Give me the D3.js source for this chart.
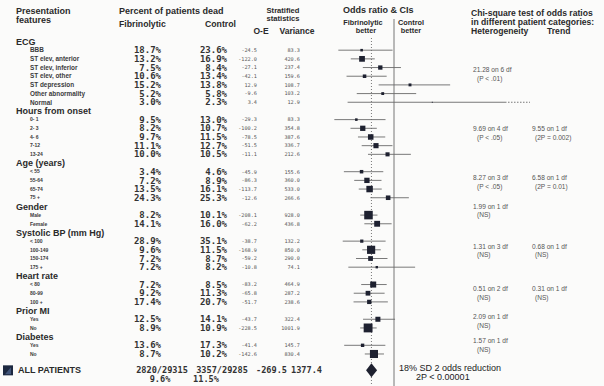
<!DOCTYPE html>
<html>
<head>
<meta charset="utf-8"/>
<script src="https://d3js.org/d3.v7.min.js"></script>
<style>
  body { margin: 0; background: #fbfbfa; }
  svg text { font-family: "Liberation Sans", Arial, sans-serif; }
  .mono { font-family: "DejaVu Sans Mono", monospace !important; }
</style>
</head>
<body>
<svg id="chart" width="604" height="386"></svg>
<script>
// ---- data ----
var groupNames = ["ECG", "Hours from onset", "Age (years)", "Gender",
                  "Systolic BP (mm Hg)", "Heart rate", "Prior MI", "Diabetes"];

var groupItems = [
  ["BBB", "ST elev, anterior", "ST elev, inferior", "ST elev, other", "ST depression", "Other abnormality", "Normal"],
  ["0- 1", "2- 3", "4- 6", "7-12", "13-24"],
  ["< 55", "55-64", "65-74", "75 +"],
  ["Male", "Female"],
  ["< 100", "100-149", "150-174", "175 +"],
  ["< 80", "80-99", "100 +"],
  ["Yes", "No"],
  ["Yes", "No"]
];

var fibPct = [18.7, 13.2, 7.5, 10.6, 15.2, 5.2, 3.0,  9.5, 8.2, 9.7, 11.1, 10.0,
              3.4, 7.2, 13.5, 24.3,  8.2, 14.1,  28.9, 9.6, 7.2, 7.2,
              7.2, 9.2, 17.4,  12.5, 8.9,  13.6, 8.7];
var ctlPct = [23.6, 16.9, 8.4, 13.4, 13.8, 5.8, 2.3,  13.0, 10.7, 11.5, 12.7, 10.5,
              4.6, 8.9, 16.1, 25.3,  10.1, 16.0,  35.1, 11.5, 8.7, 8.2,
              8.5, 11.3, 20.7,  14.1, 10.9,  17.3, 10.2];
var oMinusE = [-24.5, -122.0, -27.1, -42.1, 12.9, -9.6, 3.4,  -29.3, -100.2, -78.5, -51.5, -11.1,
               -45.9, -86.3, -113.7, -12.6,  -208.1, -62.2,  -38.7, -168.9, -59.2, -10.8,
               -83.2, -65.8, -51.7,  -43.7, -228.5,  -41.4, -142.6];
var variance = [83.3, 420.6, 237.4, 159.6, 108.7, 103.2, 12.9,  83.3, 354.8, 387.6, 336.7, 212.6,
                155.6, 360.0, 533.0, 266.6,  928.0, 436.8,  132.2, 850.0, 290.0, 74.1,
                464.9, 287.2, 238.6,  322.4, 1001.9,  145.7, 830.4];

var allCounts = ["2820/29315", "3357/29285"];
var allPct = [9.6, 11.5];
var allOE = -269.5, allVar = 1377.4;

var heteroStat = ["21.28 on 6 df", "9.69 on 4 df", "8.27 on 3 df", "1.99 on 1 df",
                  "1.31 on 3 df", "0.51 on 2 df", "2.09 on 1 df", "1.57 on 1 df"];
var heteroP = ["(P < .01)", "(P < .05)", "(P < .05)", "(NS)", "(NS)", "(NS)", "(NS)", "(NS)"];
var trendStat = [null, "9.55 on 1 df", "6.58 on 1 df", null, "0.68 on 1 df", "0.31 on 1 df", null, null];
var trendP = [null, "(2P = 0.002)", "(2P = 0.01)", null, "(NS)", "(NS)", null, null];

// ---- layout ----
var svg = d3.select("#chart");
var W = 604, H = 386;
var y = d3.scaleLinear().domain([0, 38]).range([41.5, 41.5 + 38 * 8.68]);
var x = d3.scaleLinear().domain([0.5, 1.5]).range([330.5, 457.5]);
var xClip = 505;
// row (in row units) where each group's chi-square text starts, relative to its header
var statOffset = [3.3, 2.1, 1.7, 0.0, 1.6, 1.5, 0.7, 0.5];

var rows = [], headers = [];
var idx = 0, k = 0;
groupNames.forEach(function(g, gi) {
  headers.push({name: g, i: idx, gi: gi});
  idx++;
  groupItems[gi].forEach(function(lab) {
    rows.push({label: lab, i: idx, gi: gi, fib: fibPct[k], ctl: ctlPct[k], oe: oMinusE[k], v: variance[k], ecg: gi === 0});
    idx++; k++;
  });
});
var allRow = idx + 1;

rows.forEach(function(d) {
  var b = d.oe / d.v, se = 1 / Math.sqrt(d.v);
  d.or = Math.exp(b);
  d.lo = Math.exp(b - 2.58 * se);
  d.hi = Math.exp(b + 2.58 * se);
});

// ---- column headings ----
var head = svg.append("g").attr("fill", "#2a2a2a").style("font-weight", "bold");
function ht(t, xx, yy, size, anchor) {
  head.append("text").attr("x", xx).attr("y", yy).attr("text-anchor", anchor || "start")
    .style("font-size", size + "px").text(t);
}
ht("Presentation", 16, 14, 9); ht("features", 16, 23, 9);
ht("Percent of patients dead", 119, 14, 9);
ht("Fibrinolytic", 119, 27, 8.7); ht("Control", 205, 27, 8.7);
ht("Stratified", 283, 12.5, 7.6, "middle"); ht("statistics", 283, 20.5, 7.6, "middle");
ht("O-E", 261, 34, 8.5, "middle"); ht("Variance", 297, 34, 8.5, "middle");
ht("Odds ratio & CIs", 343, 13, 9);
ht("Fibrinolytic", 363, 24.5, 7.3, "middle"); ht("better", 366, 32.5, 7.3, "middle");
ht("Control", 411, 24.5, 7.3, "middle"); ht("better", 411, 32.5, 7.3, "middle");
ht("Chi-square test of odds ratios", 471, 16, 8.6);
ht("in different patient categories:", 471, 25, 8.6);
ht("Heterogeneity", 471, 34, 8.6); ht("Trend", 547, 34, 8.6);

// ---- reference lines ----
svg.append("line").attr("x1", x(1)).attr("x2", x(1)).attr("y1", 19).attr("y2", H)
  .attr("stroke", "#777").attr("stroke-width", 1);
var pooled = Math.exp(allOE / allVar);
svg.append("line").attr("x1", x(pooled)).attr("x2", x(pooled)).attr("y1", 38).attr("y2", H)
  .attr("stroke", "#777").attr("stroke-width", 1).attr("stroke-dasharray", "1,2");

// ---- group headings ----
svg.append("g").selectAll("text").data(headers).join("text")
  .attr("x", 16).attr("y", function(d) { return y(d.i); }).attr("dy", "0.35em")
  .attr("fill", "#2a2a2a").style("font-size", "9px").style("font-weight", "bold")
  .text(function(d) { return d.name; });

// ---- row labels ----
svg.append("g").selectAll("text").data(rows).join("text")
  .attr("x", 30).attr("y", function(d) { return y(d.i); }).attr("dy", "0.35em")
  .attr("fill", "#3a3a3a").style("font-weight", "bold")
  .style("font-size", function(d) { return d.ecg ? "6.4px" : "5px"; })
  .text(function(d) { return d.label; });

// ---- percent columns ----
function pctCol(key, xr) {
  svg.append("g").selectAll("text").data(rows).join("text")
    .attr("class", "mono").attr("x", xr).attr("y", function(d) { return y(d.i); }).attr("dy", "0.35em")
    .attr("text-anchor", "end").attr("fill", "#333").style("font-size", "9px").style("font-weight", "bold")
    .text(function(d) { return d[key].toFixed(1) + "%"; });
}
pctCol("fib", 161);
pctCol("ctl", 227);

function statCol(key, xr) {
  svg.append("g").selectAll("text").data(rows).join("text")
    .attr("class", "mono").attr("x", xr).attr("y", function(d) { return y(d.i); }).attr("dy", "0.35em")
    .attr("text-anchor", "end").attr("fill", "#555").style("font-size", "5.2px")
    .text(function(d) { return d[key].toFixed(1); });
}
statCol("oe", 257);
statCol("v", 300);

// ---- forest plot ----
var forest = svg.append("g");
forest.selectAll("line.ci").data(rows).join("line").attr("class", "ci")
  .attr("x1", function(d) { return x(d.lo); })
  .attr("x2", function(d) { return Math.min(x(d.hi), xClip); })
  .attr("y1", function(d) { return y(d.i); }).attr("y2", function(d) { return y(d.i); })
  .attr("stroke", "#6a6a6a").attr("stroke-width", 0.9);
forest.selectAll("line.ext").data(rows.filter(function(d) { return x(d.hi) > xClip; })).join("line")
  .attr("class", "ext")
  .attr("x1", xClip).attr("x2", xClip + 25)
  .attr("y1", function(d) { return y(d.i); }).attr("y2", function(d) { return y(d.i); })
  .attr("stroke", "#6a6a6a").attr("stroke-width", 0.9).attr("stroke-dasharray", "1.5,1.5");
forest.selectAll("rect").data(rows).join("rect")
  .attr("x", function(d) { return x(d.or) - 0.14 * Math.sqrt(d.v); })
  .attr("y", function(d) { return y(d.i) - 0.14 * Math.sqrt(d.v); })
  .attr("width", function(d) { return 0.28 * Math.sqrt(d.v); })
  .attr("height", function(d) { return 0.28 * Math.sqrt(d.v); })
  .attr("fill", "#1e2130");

// pooled diamond
var pb = allOE / allVar, pse = 1 / Math.sqrt(allVar);
var yAll = y(allRow) - 1;
forest.append("path")
  .attr("d", d3.line()([
    [x(Math.exp(pb - 1.96 * pse)), yAll], [x(pooled), yAll - 7],
    [x(Math.exp(pb + 1.96 * pse)), yAll], [x(pooled), yAll + 7]]) + "Z")
  .attr("fill", "#1e2130");

// ---- chi-square tests ----
var chi = svg.append("g").attr("fill", "#555").style("font-size", "6.6px");
headers.forEach(function(h) {
  var yy = y(h.i + statOffset[h.gi]);
  chi.append("text").attr("x", 473).attr("y", yy).attr("dy", "0.35em").text(heteroStat[h.gi]);
  chi.append("text").attr("x", 477).attr("y", yy + 8.7).attr("dy", "0.35em").text(heteroP[h.gi]);
  if (trendStat[h.gi]) {
    chi.append("text").attr("x", 532).attr("y", yy).attr("dy", "0.35em").text(trendStat[h.gi]);
    chi.append("text").attr("x", 535).attr("y", yy + 8.7).attr("dy", "0.35em").text(trendP[h.gi]);
  }
});

// ---- all patients ----
var yA = y(allRow) - 1;
var icon = svg.append("g");
icon.append("rect").attr("x", 3).attr("y", yA - 5).attr("width", 10).attr("height", 10).attr("fill", "#1c2840");
icon.append("path").attr("d", "M5," + (yA + 4) + "L11," + (yA - 3) + "L11," + (yA + 4) + "Z").attr("fill", "#41557a");
svg.append("text").attr("x", 18).attr("y", yA).attr("dy", "0.35em")
  .attr("fill", "#2a2a2a").style("font-size", "9px").style("font-weight", "bold").text("ALL PATIENTS");
var allG = svg.append("g").attr("fill", "#333").style("font-size", "8.6px").style("font-weight", "bold");
allG.append("text").attr("class", "mono").attr("x", 162).attr("y", yA).attr("dy", "0.35em").attr("text-anchor", "middle").text(allCounts[0]);
allG.append("text").attr("class", "mono").attr("x", 222).attr("y", yA).attr("dy", "0.35em").attr("text-anchor", "middle").text(allCounts[1]);
allG.append("text").attr("class", "mono").attr("x", 160).attr("y", yA + 9).attr("dy", "0.35em").attr("text-anchor", "middle").text(allPct[0].toFixed(1) + "%");
allG.append("text").attr("class", "mono").attr("x", 206).attr("y", yA + 9).attr("dy", "0.35em").attr("text-anchor", "middle").text(allPct[1].toFixed(1) + "%");
allG.append("text").attr("class", "mono").attr("x", 287).attr("y", yA).attr("dy", "0.35em").attr("text-anchor", "end").text(allOE.toFixed(1));
allG.append("text").attr("class", "mono").attr("x", 322).attr("y", yA).attr("dy", "0.35em").attr("text-anchor", "end").text(allVar.toFixed(1));

svg.append("text").attr("x", 399).attr("y", yA - 2).attr("dy", "0.35em").attr("fill", "#1a1a1a")
  .style("font-size", "9px").text("18% SD 2 odds reduction");
svg.append("text").attr("x", 416).attr("y", yA + 7).attr("dy", "0.35em").attr("fill", "#1a1a1a")
  .style("font-size", "9px").text("2P < 0.00001");
</script>
</body>
</html>
